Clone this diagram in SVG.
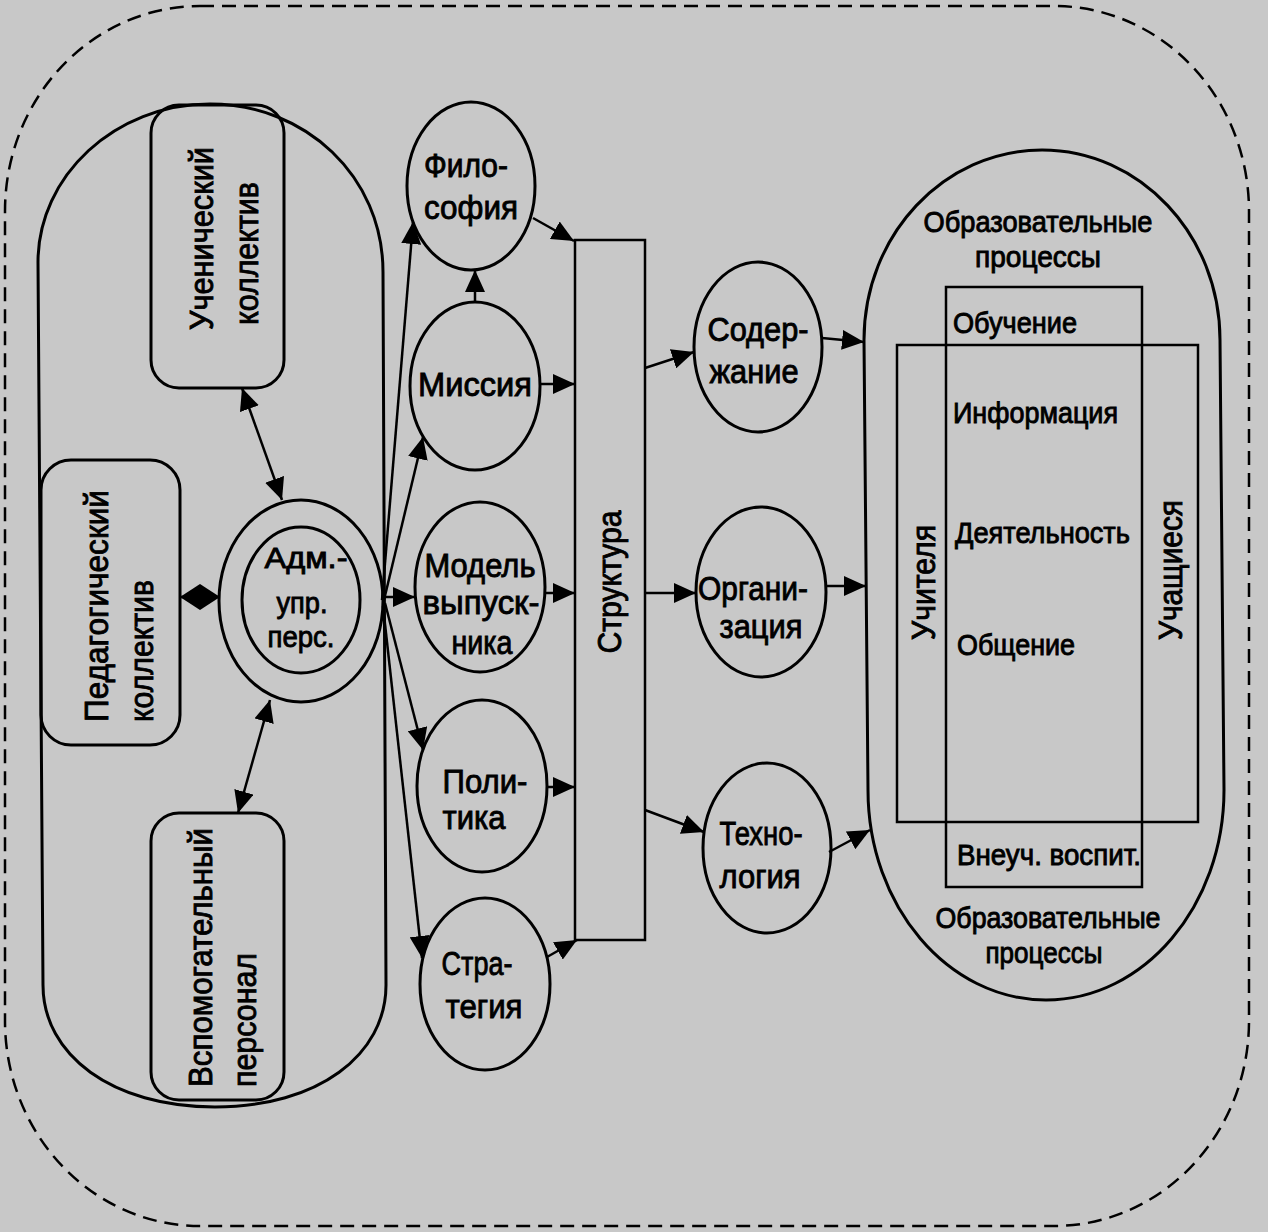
<svg xmlns="http://www.w3.org/2000/svg" width="1268" height="1232" viewBox="0 0 1268 1232">
<style>
.bg{fill:#c8c8c8}
.shape{fill:none;stroke:#000;stroke-width:3}
.thin{fill:none;stroke:#000;stroke-width:2.5}
.border{fill:none;stroke:#000;stroke-width:2.5;stroke-dasharray:14 8}
.conn{fill:none;stroke:#000;stroke-width:2.5}
.lbl{font-family:"Liberation Sans",Arial,sans-serif;font-size:34px;fill:#000;stroke:#000;stroke-width:0.9}
.sm{font-size:29px}
.md{font-size:30px}
.c{text-anchor:middle}
</style>
<defs>
<marker id="ah" viewBox="0 0 22 20" refX="22" refY="10" markerWidth="22" markerHeight="20" markerUnits="userSpaceOnUse" orient="auto-start-reverse"><path d="M0,0 L22,10 L0,20 Z" fill="#000"/></marker>
<marker id="dh" viewBox="0 0 20 26" refX="20" refY="13" markerWidth="20" markerHeight="26" markerUnits="userSpaceOnUse" orient="auto-start-reverse"><path d="M0,0 L20,13 L0,26 Z" fill="#000"/></marker>
</defs>
<rect class="bg" x="0" y="0" width="1268" height="1232"/>
<rect class="border" x="5" y="6" width="1244" height="1220" rx="195" ry="205"/>

<g id="left-capsule">
<path class="shape" d="M38 262 C38 176 115 104 210 104 C305 104 383 176 383 272 L386 985 C386 1055 318 1107 215 1107 C112 1107 43 1055 43 985 Z"/>
</g>

<g id="uchenicheskiy">
<rect class="shape" x="151" y="105" width="133" height="283" rx="28"/>
<text class="lbl" transform="translate(213,330) rotate(-90)" textLength="183" lengthAdjust="spacingAndGlyphs">Ученический</text>
<text class="lbl" transform="translate(258,325) rotate(-90)" textLength="143" lengthAdjust="spacingAndGlyphs">коллектив</text>
</g>

<g id="pedagogicheskiy">
<rect class="shape" x="41" y="460" width="139" height="285" rx="30"/>
<text class="lbl" transform="translate(108,722) rotate(-90)" textLength="232" lengthAdjust="spacingAndGlyphs">Педагогический</text>
<text class="lbl" transform="translate(153,722) rotate(-90)" textLength="142" lengthAdjust="spacingAndGlyphs">коллектив</text>
</g>

<g id="vspomogatelnyy">
<rect class="shape" x="151" y="813" width="133" height="287" rx="28"/>
<text class="lbl" transform="translate(212,1087) rotate(-90)" textLength="259" lengthAdjust="spacingAndGlyphs">Вспомогательный</text>
<text class="lbl" transform="translate(256,1087) rotate(-90)" textLength="134" lengthAdjust="spacingAndGlyphs">персонал</text>
</g>

<g id="adm">
<ellipse class="shape" cx="301" cy="601" rx="82" ry="101"/>
<ellipse class="shape" cx="301" cy="600" rx="59" ry="73"/>
<text class="lbl md c" x="306" y="568" textLength="83" lengthAdjust="spacingAndGlyphs">Адм.-</text>
<text class="lbl md c" x="302" y="613" textLength="51" lengthAdjust="spacingAndGlyphs">упр.</text>
<text class="lbl md c" x="301" y="647" textLength="67" lengthAdjust="spacingAndGlyphs">перс.</text>
</g>

<g id="filosofiya">
<ellipse class="shape" cx="471" cy="186" rx="64" ry="84"/>
<text class="lbl c" x="466" y="177" textLength="84" lengthAdjust="spacingAndGlyphs">Фило-</text>
<text class="lbl c" x="471" y="219" textLength="94" lengthAdjust="spacingAndGlyphs">софия</text>
</g>

<g id="missiya">
<ellipse class="shape" cx="475" cy="386" rx="65" ry="84"/>
<text class="lbl c" x="475" y="396" textLength="114" lengthAdjust="spacingAndGlyphs">Миссия</text>
</g>

<g id="model">
<ellipse class="shape" cx="480" cy="587" rx="65" ry="85"/>
<text class="lbl c" x="480" y="577" textLength="111" lengthAdjust="spacingAndGlyphs">Модель</text>
<text class="lbl c" x="481" y="614" textLength="117" lengthAdjust="spacingAndGlyphs">выпуск-</text>
<text class="lbl c" x="482" y="654" textLength="61" lengthAdjust="spacingAndGlyphs">ника</text>
</g>

<g id="politika">
<ellipse class="shape" cx="482" cy="786" rx="65" ry="86"/>
<text class="lbl c" x="485" y="793" textLength="85" lengthAdjust="spacingAndGlyphs">Поли-</text>
<text class="lbl c" x="474" y="829" textLength="63" lengthAdjust="spacingAndGlyphs">тика</text>
</g>

<g id="strategiya">
<ellipse class="shape" cx="485" cy="984" rx="65" ry="86"/>
<text class="lbl c" x="477" y="975" textLength="71" lengthAdjust="spacingAndGlyphs">Стра-</text>
<text class="lbl c" x="484" y="1018" textLength="77" lengthAdjust="spacingAndGlyphs">тегия</text>
</g>

<g id="struktura">
<rect class="thin" x="575" y="240" width="70" height="700"/>
<text class="lbl c" transform="translate(621,582) rotate(-90)" textLength="143" lengthAdjust="spacingAndGlyphs">Структура</text>
</g>

<g id="soderzhanie">
<ellipse class="shape" cx="758" cy="347" rx="64" ry="85"/>
<text class="lbl c" x="758" y="341" textLength="101" lengthAdjust="spacingAndGlyphs">Содер-</text>
<text class="lbl c" x="754" y="383" textLength="89" lengthAdjust="spacingAndGlyphs">жание</text>
</g>

<g id="organizatsiya">
<ellipse class="shape" cx="761" cy="592" rx="65" ry="85"/>
<text class="lbl c" x="753" y="600" textLength="110" lengthAdjust="spacingAndGlyphs">Органи-</text>
<text class="lbl c" x="761" y="638" textLength="83" lengthAdjust="spacingAndGlyphs">зация</text>
</g>

<g id="tekhnologiya">
<ellipse class="shape" cx="767" cy="848" rx="64" ry="85"/>
<text class="lbl c" x="761" y="845" textLength="83" lengthAdjust="spacingAndGlyphs">Техно-</text>
<text class="lbl c" x="760" y="888" textLength="81" lengthAdjust="spacingAndGlyphs">логия</text>
</g>

<g id="obrazovatelnye-protsessy">
<path class="shape" d="M864 340 C864 235 944 150 1042 150 C1140 150 1220 235 1220 340 L1224 790 C1224 906 1144 1000 1046 1000 C948 1000 868 906 868 790 Z"/>
<text class="lbl sm c" x="1038" y="232" textLength="229" lengthAdjust="spacingAndGlyphs">Образовательные</text>
<text class="lbl sm c" x="1038" y="267" textLength="126" lengthAdjust="spacingAndGlyphs">процессы</text>
<text class="lbl sm c" x="1048" y="928" textLength="225" lengthAdjust="spacingAndGlyphs">Образовательные</text>
<text class="lbl sm c" x="1044" y="963" textLength="117" lengthAdjust="spacingAndGlyphs">процессы</text>
</g>

<g id="protsessy-box">
<rect class="thin" x="946" y="287" width="196" height="600"/>
<text class="lbl sm" x="953" y="333" textLength="124" lengthAdjust="spacingAndGlyphs">Обучение</text>
<text class="lbl sm" x="953" y="423" textLength="165" lengthAdjust="spacingAndGlyphs">Информация</text>
<text class="lbl sm" x="955" y="543" textLength="175" lengthAdjust="spacingAndGlyphs">Деятельность</text>
<text class="lbl sm" x="957" y="655" textLength="118" lengthAdjust="spacingAndGlyphs">Общение</text>
<text class="lbl sm" x="957" y="865" textLength="184" lengthAdjust="spacingAndGlyphs">Внеуч. воспит.</text>
</g>

<g id="uchitelya-uchashchiesya">
<rect class="thin" x="897" y="345" width="301" height="477"/>
<text class="lbl" transform="translate(935,640) rotate(-90)" textLength="115" lengthAdjust="spacingAndGlyphs">Учителя</text>
<text class="lbl" transform="translate(1182,640) rotate(-90)" textLength="140" lengthAdjust="spacingAndGlyphs">Учащиеся</text>
</g>

<g id="connectors">
<path class="conn" d="M242 388 L282 500" marker-start="url(#ah)" marker-end="url(#ah)"/>
<path class="conn" d="M270 700 L238 813" marker-start="url(#ah)" marker-end="url(#ah)"/>
<path class="conn" d="M180 597 L220 597" marker-start="url(#dh)" marker-end="url(#dh)"/>
<path class="conn" d="M382 600 L413 222" marker-end="url(#ah)"/>
<path class="conn" d="M384 600 L423 437" marker-end="url(#ah)"/>
<path class="conn" d="M384 597 L415 597" marker-end="url(#ah)"/>
<path class="conn" d="M385 603 L423 750" marker-end="url(#ah)"/>
<path class="conn" d="M383 606 L422 958" marker-end="url(#ah)"/>
<path class="conn" d="M475 302 L475 270" marker-end="url(#ah)"/>
<path class="conn" d="M533 218 L574 241" marker-end="url(#ah)"/>
<path class="conn" d="M540 384 L575 384" marker-end="url(#ah)"/>
<path class="conn" d="M545 593 L575 593" marker-end="url(#ah)"/>
<path class="conn" d="M547 787 L575 787" marker-end="url(#ah)"/>
<path class="conn" d="M547 957 L577 940" marker-end="url(#ah)"/>
<path class="conn" d="M645 368 L694 352" marker-end="url(#ah)"/>
<path class="conn" d="M645 593 L696 593" marker-end="url(#ah)"/>
<path class="conn" d="M645 810 L704 832" marker-end="url(#ah)"/>
<path class="conn" d="M822 338 L864 342" marker-end="url(#ah)"/>
<path class="conn" d="M826 586 L866 586" marker-end="url(#ah)"/>
<path class="conn" d="M829 852 L870 830" marker-end="url(#ah)"/>
</g>
</svg>
